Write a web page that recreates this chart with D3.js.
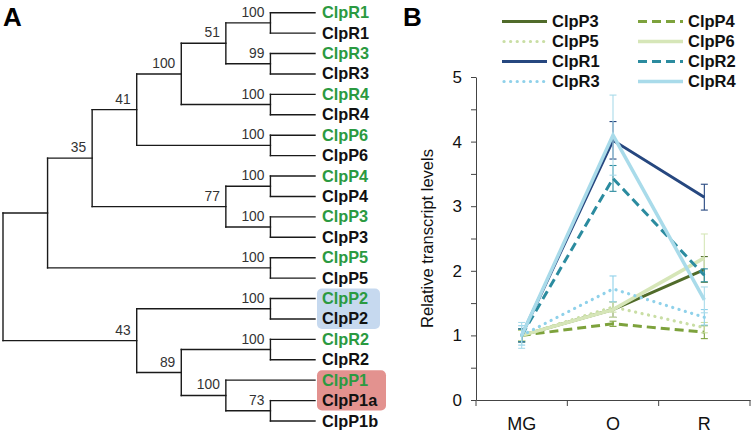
<!DOCTYPE html>
<html><head><meta charset="utf-8">
<script src="https://cdn.jsdelivr.net/npm/d3@7"></script>
<style>
html,body{margin:0;padding:0;background:#fff;}
svg{display:block;font-family:Arial,"Liberation Sans",sans-serif;}
</style></head>
<body><svg id="c" width="752" height="433"></svg>
<script>
// ---------- Panel A data ----------
const leafNames = ["ClpR1","ClpR1","ClpR3","ClpR3","ClpR4","ClpR4","ClpP6","ClpP6","ClpP4","ClpP4",
  "ClpP3","ClpP3","ClpP5","ClpP5","ClpP2","ClpP2","ClpR2","ClpR2","ClpP1","ClpP1a","ClpP1b"];
const leafGreen = [1,0,1,0,1,0,1,0,1,0,1,0,1,0,1,0,1,0,1,0,0];
// tree topology: s = bootstrap support, c = children (numbers = leaf index)
const treeTopology = {c:[
  {c:[
    {s:35,c:[
      {s:41,c:[
        {s:100,c:[
          {s:51,c:[{s:100,c:[0,1]},{s:99,c:[2,3]}]},
          {s:100,c:[4,5]}]},
        {s:100,c:[6,7]}]},
      {s:77,c:[{s:100,c:[8,9]},{s:100,c:[10,11]}]}]},
    {s:100,c:[12,13]}]},
  {s:43,c:[
    {s:100,c:[14,15]},
    {s:89,c:[
      {s:100,c:[16,17]},
      {s:100,c:[18,{s:73,c:[19,20]}]}]}]}]};
const highlightGroups = [[14,15],[18,19]];

// ---------- Panel B data ----------
const stages = ["MG","O","R"];
const seriesNames = ["ClpP3","ClpP4","ClpP5","ClpP6","ClpR1","ClpR2","ClpR3","ClpR4"];
const valClpP3 = [1.00,1.40,2.02], errClpP3 = [0.10,0.12,0.20];
const valClpP4 = [1.00,1.18,1.05], errClpP4 = [0.08,0.04,0.10];
const valClpP5 = [1.00,1.44,1.12], errClpP5 = [0.08,0.08,0.08];
const valClpP6 = [1.00,1.40,2.20], errClpP6 = [0.10,0.12,0.37];
const valClpR1 = [1.00,4.02,3.14], errClpR1 = [0.10,0.29,0.20];
const valClpR2 = [1.00,3.43,1.93], errClpR2 = [0.10,0.20,0.10];
const valClpR3 = [1.00,1.72,1.28], errClpR3 = [0.15,0.20,0.12];
const valClpR4 = [1.00,4.10,1.55], errClpR4 = [0.20,0.62,0.20];
const yTicks = [0,0.5,1,1.5,2,2.5,3,3.5,4,4.5,5];

const seriesValues = [valClpP3,valClpP4,valClpP5,valClpP6,valClpR1,valClpR2,valClpR3,valClpR4];
const seriesErrors = [errClpP3,errClpP4,errClpP5,errClpP6,errClpR1,errClpR2,errClpR3,errClpR4];

// styles
const sColors = ["#506b2a","#7da23c","#c9dea4","#d6e6b8","#26477f","#2b8b9f","#8fd1ea","#a9dbea"];
const DOT = "0.1,6.5";
const sDash   = [null,"9,5",DOT,null,null,"9,5",DOT,null];
const sWidth  = [3,3,3.2,3.5,3,3,3.2,3.5];
const capOf = k => sDash[k]===DOT ? "round" : "butt";

const svg = d3.select("#c");
const FONT = "Arial, 'Liberation Sans', sans-serif";

// ===== Panel A =====
svg.append("text").attr("x",3).attr("y",26).attr("font-size",26).attr("font-weight","bold").text("A");

function build(n){ return typeof n === "number" ? {leaf:n} : {s:n.s, children:n.c.map(build)}; }
const root = d3.hierarchy(build(treeTopology), d=>d.children);
const maxH = root.height;
const xT = d3.scaleLinear().domain([0,maxH]).range([3,315]);
const yT = d3.scaleLinear().domain([0,leafNames.length-1]).range([12.7,421]);
root.eachAfter(n=>{
  n.px = xT(maxH - n.height);
  if(!n.children){ n.px = xT(maxH); n.py = yT(n.data.leaf); }
  else n.py = d3.mean(n.children,c=>c.py);
});
// highlight boxes
const gA = svg.append("g");
const boxColors = ["#c6d9ef","#e3928f"];
const labelFont = 16.3;
highlightGroups.forEach((g,i)=>{
  const maxLen = d3.max(g,k=>leafNames[k].length);
  gA.append("rect").attr("x",317).attr("y",yT(g[0])-10)
    .attr("width", maxLen>5 ? 69 : 63).attr("height", yT(g[1])-yT(g[0])+20)
    .attr("rx",5).attr("fill",boxColors[i]);
});
const lines = [];
root.each(n=>{
  if(n.children){
    lines.push([n.px,n.children[0].py,n.px,n.children[n.children.length-1].py]);
    n.children.forEach(c=>lines.push([n.px,c.py,c.px,c.py]));
  }
});
gA.selectAll("line.br").data(lines).join("line")
  .attr("x1",d=>d[0]).attr("y1",d=>d[1]).attr("x2",d=>d[2]).attr("y2",d=>d[3])
  .attr("stroke","#1a1a1a").attr("stroke-width",1.4).attr("stroke-linecap","square");
gA.selectAll("text.bs").data(root.descendants().filter(n=>n.children && n.data.s!=null)).join("text")
  .attr("x",d=>d.px-6).attr("y",d=>d.py-6).attr("text-anchor","end")
  .attr("font-size",13.8).attr("fill","#333").text(d=>d.data.s);
gA.selectAll("text.leaf").data(root.leaves()).join("text")
  .attr("x",322).attr("y",d=>d.py+5.5).attr("font-size",labelFont).attr("font-weight","bold")
  .attr("fill",d=>leafGreen[d.data.leaf]?"#2b9a41":"#111").text(d=>leafNames[d.data.leaf]);

// ===== Panel B =====
svg.append("text").attr("x",403).attr("y",26).attr("font-size",26).attr("font-weight","bold").text("B");

const x = d3.scaleBand().domain(stages).range([476,750]);
const xc = s => x(s)+x.bandwidth()/2;
const y = d3.scaleLinear().domain([0,5]).range([400,77]);

const gB = svg.append("g");
const yAxis = gB.append("g").attr("transform","translate(476,0)")
  .call(d3.axisLeft(y).tickValues(yTicks).tickFormat(d=>Number.isInteger(d)?d:"").tickSizeInner(5).tickSizeOuter(0).tickPadding(9));
yAxis.selectAll("text").attr("font-size",17).attr("font-family",FONT).attr("fill","#111");
yAxis.selectAll("path,line").attr("stroke","#444");

const xAxis = gB.append("g").attr("transform","translate(0,400)")
  .call(d3.axisBottom(x).tickSize(0).tickPadding(17));
xAxis.selectAll("text").attr("font-size",18).attr("font-family",FONT).attr("fill","#111");
xAxis.select("path").attr("stroke","#444");
const bounds = stages.map(s=>x(s)).concat([x.range()[1]]);
gB.selectAll("line.xt").data(bounds).join("line")
  .attr("x1",d=>d).attr("x2",d=>d).attr("y1",400).attr("y2",406).attr("stroke","#444");

gB.append("text").attr("transform",`translate(433,${y(2.5)}) rotate(-90)`)
  .attr("text-anchor","middle").attr("font-size",16.5).attr("fill","#111").text("Relative transcript levels");

const line = d3.line().x((d,i)=>xc(stages[i])).y(d=>y(d));
seriesNames.forEach((name,k)=>{
  const g = gB.append("g");
  g.append("path").attr("d",line(seriesValues[k])).attr("fill","none")
    .attr("stroke",sColors[k]).attr("stroke-width",sWidth[k])
    .attr("stroke-dasharray",sDash[k]).attr("stroke-linecap",capOf(k));
  seriesValues[k].forEach((v,i)=>{
    const e = seriesErrors[k][i], cx = xc(stages[i]);
    g.append("line").attr("x1",cx).attr("x2",cx).attr("y1",y(v-e)).attr("y2",y(v+e))
      .attr("stroke",sColors[k]).attr("stroke-width",1.1);
    [v-e,v+e].forEach(t=>g.append("line").attr("x1",cx-3.5).attr("x2",cx+3.5).attr("y1",y(t)).attr("y2",y(t))
      .attr("stroke",sColors[k]).attr("stroke-width",1.1));
  });
});

// legend
const lg = svg.append("g");
seriesNames.forEach((name,k)=>{
  const col = k%2, row = Math.floor(k/2);
  const lx = col ? 638 : 502, ly = 21.5 + row*20;
  lg.append("line").attr("x1",lx+(capOf(k)==="round"?2:0)).attr("x2",lx+45).attr("y1",ly).attr("y2",ly)
    .attr("stroke",sColors[k]).attr("stroke-width",sWidth[k]).attr("stroke-dasharray",sDash[k])
    .attr("stroke-linecap",capOf(k));
  lg.append("text").attr("x",lx+50).attr("y",ly+5.5).attr("font-size",16.5).attr("font-weight","bold")
    .attr("fill","#111").text(name);
});
</script></body></html>
